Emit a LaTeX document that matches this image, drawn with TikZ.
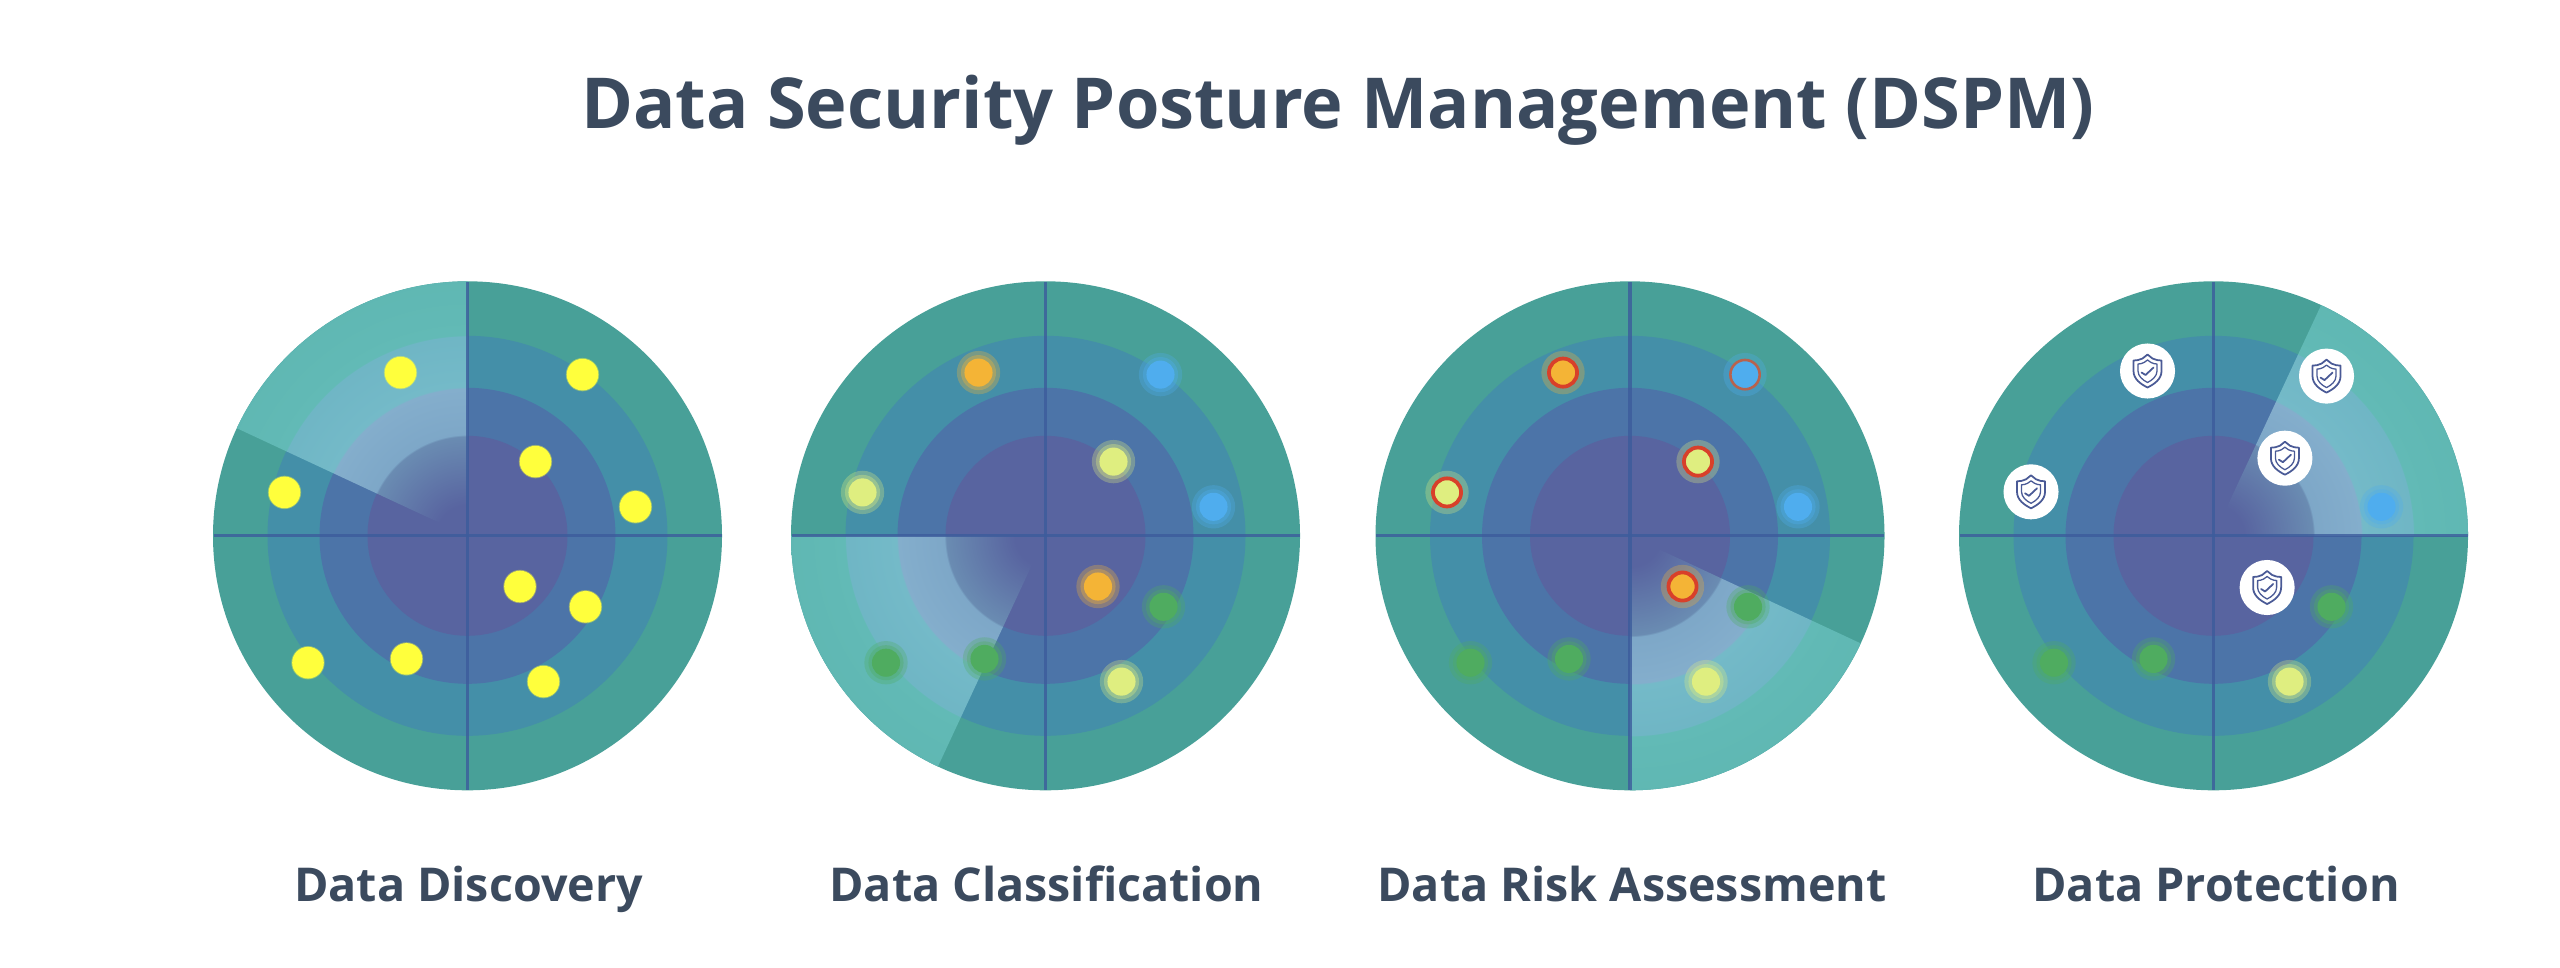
\documentclass[tikz,border=0pt]{standalone}
\usepackage{fontspec}
\setmainfont{Open Sans}
\definecolor{ringA}{HTML}{48A098}
\definecolor{ringB}{HTML}{448FA8}
\definecolor{ringC}{HTML}{4C74A8}
\definecolor{ringD}{HTML}{5864A0}
\definecolor{axisc}{HTML}{3C5C9C}
\definecolor{inkc}{HTML}{3B4A5E}
\definecolor{dyellow}{HTML}{FFFF3C}
\definecolor{dorange}{HTML}{F4B436}
\definecolor{dblue}{HTML}{4FADEE}
\definecolor{dlime}{HTML}{DFEE80}
\definecolor{dgreen}{HTML}{4FAC60}
\definecolor{dred}{HTML}{D8402A}
\definecolor{dbrown}{HTML}{B8624E}
\definecolor{shieldc}{HTML}{4A5A96}
\definecolor{swA}{HTML}{62BAB6}
\definecolor{swB}{HTML}{74BAC8}
\definecolor{swC}{HTML}{84AECC}
\definecolor{swD}{HTML}{6A8CB2}
\pgfdeclareradialshading{sweepfill}{\pgfpoint{0bp}{0bp}}{%
 color(0bp)=(ringD);
 color(3bp)=(ringD);
 color(9.8bp)=(swD);
 color(9.9bp)=(swC!88!ringC);
 color(14.5bp)=(swC);
 color(14.6bp)=(swB);
 color(19.6bp)=(swB!90!ringB);
 color(19.7bp)=(swA);
 color(25bp)=(swA!90!ringA);
 color(50bp)=(swA!90!ringA)}
\tikzset{
 titletext/.style={font=\fontsize{60pt}{70pt}\selectfont\bfseries,text=inkc,inner sep=0pt,anchor=base},
 captext/.style={font=\fontsize{39.8pt}{44pt}\selectfont\bfseries,text=inkc,inner sep=0pt,anchor=base},
 axisline/.style={draw=axisc,opacity=.8,line width=2.7},
 coredot/.style={circle,inner sep=0pt,minimum size=24,fill=#1,draw=none},
 halodot/.style={circle,inner sep=0pt,minimum size=37,fill=#1,opacity=.3,draw=none},
 halotwo/.style={circle,inner sep=0pt,minimum size=30,fill=#1,opacity=.35,draw=none},
 yellowdot/.style={circle,inner sep=0pt,minimum size=27,fill=dyellow,draw=dyellow,draw opacity=.4,line width=1.5},
 redring/.style={circle,inner sep=0pt,minimum size=24,fill=#1,draw=dred,line width=3.2},
 brownring/.style={circle,inner sep=0pt,minimum size=25,fill=#1,draw=dbrown,line width=2.2},
 badge/.style={circle,inner sep=0pt,minimum size=47,fill=white,draw=none},
 shieldline/.style={draw=shieldc,line width=1.5,line join=round,line cap=round},
 shieldthin/.style={draw=shieldc,line width=1.1,line join=round,line cap=round},
}
% radar drawn round the current origin: #1 sweep start, #2 sweep end, #3 name
\newcommand{\radarbase}[3]{%
 \fill[ringA] (0,0) circle [radius=254.5];
 \fill[ringB] (0,0) circle [radius=200];
 \fill[ringC] (0,0) circle [radius=148];
 \fill[ringD] (0,0) circle [radius=100];
 \begin{scope}
  \clip (0,0) -- ({700*cos(#1)},{-700*sin(#1)})
    -- ({900*cos((#1+#2)/2)},{-900*sin((#1+#2)/2)})
    -- ({700*cos(#2)},{-700*sin(#2)}) -- cycle;
  \shade[shading=sweepfill] (0,0) circle [radius=254.5];
 \end{scope}
 \coordinate (#3w) at (-254,0);
 \coordinate (#3e) at (254,0);
 \coordinate (#3n) at (0,-254);
 \coordinate (#3s) at (0,254);
 \draw[axisline] (#3w) -- (#3e);
 \draw[axisline] (#3n) -- (#3s);
}
\newcommand{\softdot}[4]{%
 \node[halodot=#4] (#1h) at (#2,#3) {};
 \node[halotwo=#4] (#1g) at (#2,#3) {};
 \node[coredot=#4] (#1) at (#2,#3) {};
}
\newcommand{\riskdot}[4]{%
 \node[halodot=#4] (#1h) at (#2,#3) {};
 \node[redring=#4] (#1) at (#2,#3) {};
}
\newcommand{\shieldbadge}[3]{%
 \node[badge] (#1) at (#2,#3) {};
 \begin{scope}[shift={(#2,#3)}]
  \draw[shieldline] (0,-16.5) -- (5,-12.5) .. controls (8,-11) and (11,-10.5) .. (14,-10.5)
    -- (14,0) .. controls (14,8) and (7,13) .. (0,16.5)
    .. controls (-7,13) and (-14,8) .. (-14,0) -- (-14,-10.5)
    .. controls (-11,-10.5) and (-8,-11) .. (-5,-12.5) -- cycle;
  \draw[shieldthin] (0,-11) -- (3.5,-8.5) .. controls (5.5,-7.5) and (7.5,-7) .. (9.5,-7)
    -- (9.5,0) .. controls (9.5,5) and (5,9) .. (0,11.5)
    .. controls (-5,9) and (-9.5,5) .. (-9.5,0) -- (-9.5,-7)
    .. controls (-7.5,-7) and (-5.5,-7.5) .. (-3.5,-8.5) -- cycle;
  \draw[shieldline] (-6,1.5) -- (-2,4) -- (6,-3.5);
 \end{scope}
}
\begin{document}
\begin{tikzpicture}[x=0.03cm,y=-0.03cm]
\useasboundingbox (0,0) rectangle (2560,967);
\fill[white] (0,0) rectangle (2560,967);
\node[titletext] (title) at (1338,128) {Data Security Posture Management (DSPM)};

\begin{scope}[shift={(467.5,535.8)}]
 \radarbase{90}{155}{ra}
 \foreach \n/\dx/\dy in {a/-67/-163.2,b/115/-161.2,c/68/-74.2,d/168/-29,e/-183/-43.4,f/52.5/50.7,g/118/71,h/-159.5/126.9,i/-61/123.1,j/76/145.8}
  \node[yellowdot] (ra\n) at (\dx,\dy) {};
\end{scope}

\begin{scope}[shift={(1045.5,535.8)}]
 \radarbase{180}{245}{rb}
 \softdot{rba}{-67}{-163.2}{dorange}
 \softdot{rbb}{115}{-161.2}{dblue}
 \softdot{rbc}{68}{-74.2}{dlime}
 \softdot{rbd}{168}{-29}{dblue}
 \softdot{rbe}{-183}{-43.4}{dlime}
 \softdot{rbf}{52.5}{50.7}{dorange}
 \softdot{rbg}{118}{71}{dgreen}
 \softdot{rbh}{-159.5}{126.9}{dgreen}
 \softdot{rbi}{-61}{123.1}{dgreen}
 \softdot{rbj}{76}{145.8}{dlime}
\end{scope}

\begin{scope}[shift={(1630,535.8)}]
 \radarbase{270}{335}{rc}
 \riskdot{rca}{-67}{-163.2}{dorange}
 \node[halodot=dblue] (rcbh) at (115,-161.2) {};
 \node[brownring=dblue] (rcb) at (115,-161.2) {};
 \riskdot{rcc}{68}{-74.2}{dlime}
 \softdot{rcd}{168}{-29}{dblue}
 \riskdot{rce}{-183}{-43.4}{dlime}
 \riskdot{rcf}{52.5}{50.7}{dorange}
 \softdot{rcg}{118}{71}{dgreen}
 \softdot{rch}{-159.5}{126.9}{dgreen}
 \softdot{rci}{-61}{123.1}{dgreen}
 \softdot{rcj}{76}{145.8}{dlime}
\end{scope}

\begin{scope}[shift={(2213.5,535.8)}]
 \radarbase{0}{65}{rd}
 \softdot{rdd}{168}{-29}{dblue}
 \softdot{rdg}{118}{71}{dgreen}
 \softdot{rdh}{-159.5}{126.9}{dgreen}
 \softdot{rdi}{-60}{123.1}{dgreen}
 \softdot{rdj}{76}{145.8}{dlime}
 \shieldbadge{rda}{-66}{-164.8}
 \shieldbadge{rdb}{113}{-159.7}
 \shieldbadge{rdc}{71.4}{-77.6}
 \shieldbadge{rde}{-182.5}{-44}
 \shieldbadge{rdf}{53.6}{51.7}
\end{scope}

\node[captext] (capa) at (468.5,901) {Data Discovery};
\node[captext] (capb) at (1046.5,901) {Data Classification};
\node[captext] (capc) at (1632,901) {Data Risk Assessment};
\node[captext] (capd) at (2216,901) {Data Protection};
\end{tikzpicture}
\end{document}
